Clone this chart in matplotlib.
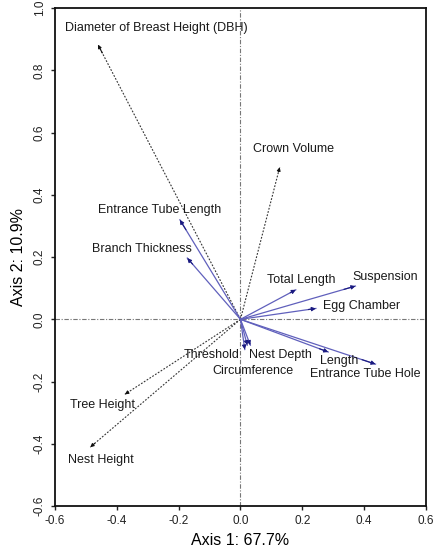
import matplotlib
matplotlib.use("Agg")
import matplotlib.pyplot as plt
import numpy as np

plt.rcParams['font.family'] = ['Liberation Sans', 'DejaVu Sans']

# Habitat (tree) variables - dashed black arrows
env_names = ["Diameter of Breast Height (DBH)", "Crown Volume", "Tree Height", "Nest Height"]
env_x = [-0.461, 0.127, -0.374, -0.486]
env_y = [0.883, 0.489, -0.241, -0.411]
env_lx = [-0.272, 0.173, -0.447, -0.452]
env_ly = [0.935, 0.549, -0.276, -0.452]

# Nest variables - blue arrows
nest_names = ["Entrance Tube Length", "Branch Thickness", "Total Length", "Suspension",
              "Egg Chamber", "Threshold", "Nest Depth", "Circumference", "Length",
              "Entrance Tube Hole"]
nest_x = [-0.196, -0.172, 0.179, 0.372, 0.244, 0.022, 0.032, 0.014, 0.284, 0.437]
nest_y = [0.320, 0.197, 0.095, 0.107, 0.035, -0.083, -0.083, -0.097, -0.105, -0.144]
nest_lx = [-0.263, -0.318, 0.197, 0.467, 0.392, -0.094, 0.130, 0.039, 0.319, 0.404]
nest_ly = [0.350, 0.226, 0.127, 0.137, 0.043, -0.115, -0.115, -0.167, -0.133, -0.176]

x_ticks = [-0.6, -0.4, -0.2, 0.0, 0.2, 0.4, 0.6]
y_ticks = [-0.6, -0.4, -0.2, 0.0, 0.2, 0.4, 0.6, 0.8, 1.0]

fig = plt.figure(figsize=(4.4, 5.5), dpi=100)
ax = fig.add_axes([0.125, 0.08, 0.843, 0.905])
ax.set_xlim(-0.6, 0.6)
ax.set_ylim(-0.6, 1.0)

ax.axhline(0, color='#777777', lw=0.8, ls=(0, (4, 1.5, 1, 1.5)), zorder=1)
ax.axvline(0, color='#777777', lw=0.8, ls=(0, (4, 1.5, 1, 1.5)), zorder=1)

fs = 9
for n, x, y, lx, ly in zip(env_names, env_x, env_y, env_lx, env_ly):
    ax.plot([0, x], [0, y], color='#333333', lw=0.8, ls=(0, (1.6, 1.4)), zorder=2)
    ax.annotate('', xy=(x, y), xytext=(0.97 * x, 0.97 * y),
                arrowprops=dict(arrowstyle='-|>', color='#111111', lw=0.8,
                                mutation_scale=5, shrinkA=0, shrinkB=0), zorder=3)
    ax.text(lx, ly, n, ha='center', va='center', fontsize=fs, color='#1a1a1a', zorder=4)

for n, x, y, lx, ly in zip(nest_names, nest_x, nest_y, nest_lx, nest_ly):
    ax.plot([0, x], [0, y], color='#6060bc', lw=0.9, zorder=2)
    ax.annotate('', xy=(x, y), xytext=(0.9 * x, 0.9 * y),
                arrowprops=dict(arrowstyle='-|>', color='#1a1a80', lw=0.8,
                                mutation_scale=6, shrinkA=0, shrinkB=0), zorder=3)
    ax.text(lx, ly, n, ha='center', va='center', fontsize=fs, color='#1a1a1a', zorder=4)

ax.set_xticks(x_ticks)
ax.set_xticklabels([f"{v:.1f}" for v in x_ticks])
ax.set_yticks(y_ticks)
ax.set_yticklabels([f"{v:.1f}" for v in y_ticks], rotation=90, va='center')
ax.tick_params(direction='out', length=3, width=1, labelsize=8.5, colors='#222222')
for s in ax.spines.values():
    s.set_linewidth(1.3)
    s.set_color('#111111')

ax.set_xlabel("Axis 1: 67.7%", fontsize=11.5, labelpad=4)
ax.set_ylabel("Axis 2: 10.9%", fontsize=11.5, labelpad=6)

fig.savefig("out.png", dpi=100)
